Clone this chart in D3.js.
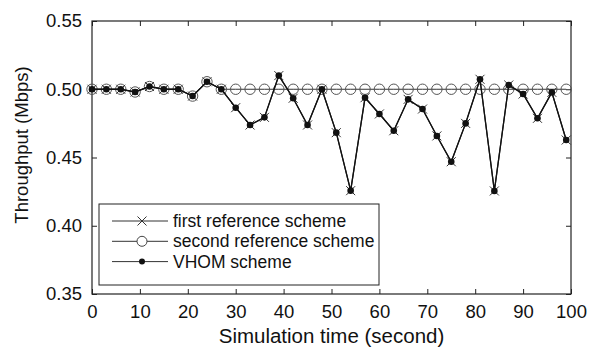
<!DOCTYPE html>
<html><head><meta charset="utf-8">
<script src="https://cdn.jsdelivr.net/npm/d3@7"></script>
<style>body{margin:0;background:#fff}svg{display:block}text{font-family:"Liberation Sans",Arial,sans-serif;fill:#111}</style>
</head><body><svg id="c" width="602" height="350"></svg>
<script>
const times = [0,3,6,9,12,15,18,21,24,27,30,33,36,39,42,45,48,51,54,57,60,63,66,69,72,75,78,81,84,87,90,93,96,99];
const vhom = [0.500,0.500,0.500,0.498,0.502,0.500,0.500,0.495,0.5055,0.500,0.4865,0.4738,0.4794,0.510,0.4934,0.4738,0.500,0.4682,0.4257,0.4938,0.4819,0.4696,0.4926,0.4855,0.4658,0.4469,0.4750,0.5073,0.4255,0.5031,0.4965,0.4787,0.4977,0.4628];
const firstRef = [0.500,0.500,0.500,0.498,0.502,0.500,0.500,0.495,0.5055,0.500,0.4865,0.4738,0.4794,0.510,0.4934,0.4738,0.500,0.4682,0.4257,0.4938,0.4819,0.4696,0.4926,0.4855,0.4658,0.4469,0.4750,0.5073,0.4255,0.5031,0.4965,0.4787,0.4977,0.4628];
const secondRef = [0.500,0.500,0.500,0.498,0.502,0.500,0.500,0.495,0.5055,0.500,0.500,0.500,0.500,0.500,0.500,0.500,0.500,0.500,0.500,0.500,0.500,0.500,0.500,0.500,0.500,0.500,0.500,0.500,0.500,0.500,0.500,0.500,0.500,0.500];
const xTicks = [0,10,20,30,40,50,60,70,80,90,100];
const yTicks = [0.35,0.40,0.45,0.50,0.55];
const legendLabels = ["first reference scheme","second reference scheme","VHOM scheme"];

const svg = d3.select("#c");
const L=92,R=571,T=21,B=294;
const x = d3.scaleLinear().domain([0,100]).range([L,R]);
const y = d3.scaleLinear().domain([0.35,0.55]).range([B,T]);
const ink="#222";

// axes box
svg.append("rect").attr("x",L).attr("y",T).attr("width",R-L).attr("height",B-T).attr("fill","none").attr("stroke",ink).attr("stroke-width",1.2);
const tl=5;
const fmt = d3.format(".2f");
const axB = svg.append("g").attr("transform",`translate(0,${B})`).call(d3.axisBottom(x).tickValues(xTicks).tickSizeInner(-tl).tickSizeOuter(0).tickPadding(11));
const axT = svg.append("g").attr("transform",`translate(0,${T})`).call(d3.axisTop(x).tickValues(xTicks).tickSizeInner(-tl).tickSizeOuter(0).tickFormat(""));
const axL = svg.append("g").attr("transform",`translate(${L},0)`).call(d3.axisLeft(y).tickValues(yTicks).tickSizeInner(-tl).tickSizeOuter(0).tickPadding(10).tickFormat(fmt));
const axR = svg.append("g").attr("transform",`translate(${R},0)`).call(d3.axisRight(y).tickValues(yTicks).tickSizeInner(-tl).tickSizeOuter(0).tickFormat(""));
[axB,axT,axL,axR].forEach(a=>{a.select(".domain").remove();a.selectAll("line").attr("stroke",ink);a.selectAll("text").attr("font-size",18.5).attr("fill","#111").style("font-family","Liberation Sans, Arial, sans-serif");});

// titles
svg.append("text").attr("x",(L+R)/2+0).attr("y",343).attr("text-anchor","middle").attr("font-size",20.5).text("Simulation time (second)");
svg.append("text").attr("transform",`translate(28,145) rotate(-90)`).attr("text-anchor","middle").attr("font-size",18.5).text("Throughput (Mbps)");

const line = d3.line().x((d,i)=>x(times[i])).y(d=>y(d));
function drawCross(g,cx,cy,s){g.append("path").attr("d",`M${cx-s},${cy-s}L${cx+s},${cy+s}M${cx-s},${cy+s}L${cx+s},${cy-s}`).attr("stroke","#333").attr("stroke-width",1).attr("fill","none");}

// second reference
svg.append("path").datum(secondRef).attr("d",line).attr("fill","none").attr("stroke","#333").attr("stroke-width",1);
svg.append("g").selectAll("circle").data(secondRef).join("circle").attr("cx",(d,i)=>x(times[i])).attr("cy",d=>y(d)).attr("r",5.2).attr("fill","none").attr("stroke","#555").attr("stroke-width",1);
// first reference
svg.append("path").datum(firstRef).attr("d",line).attr("fill","none").attr("stroke","#222").attr("stroke-width",1.2);
const gc = svg.append("g");
firstRef.forEach((d,i)=>drawCross(gc,x(times[i]),y(d),4.5));
// VHOM
svg.append("path").datum(vhom).attr("d",line).attr("fill","none").attr("stroke","#111").attr("stroke-width",1.3);
svg.append("g").selectAll("circle").data(vhom).join("circle").attr("cx",(d,i)=>x(times[i])).attr("cy",d=>y(d)).attr("r",3.3).attr("fill","#111");

// legend
const lg = svg.append("g");
lg.append("rect").attr("x",99).attr("y",204).attr("width",280).attr("height",81).attr("fill","#fff").attr("stroke",ink).attr("stroke-width",1);
legendLabels.forEach((lab,i)=>{
  const cy = 221 + i*20.3;
  lg.append("line").attr("x1",112).attr("x2",168).attr("y1",cy).attr("y2",cy).attr("stroke","#333").attr("stroke-width",1);
  if(i===0) drawCross(lg,142,cy,4.5);
  if(i===1) lg.append("circle").attr("cx",142).attr("cy",cy).attr("r",5).attr("fill","#fff").attr("stroke","#444");
  if(i===2) lg.append("circle").attr("cx",142).attr("cy",cy).attr("r",3).attr("fill","#111");
  lg.append("text").attr("x",173).attr("y",cy+6).attr("font-size",17.5).text(lab);
});
</script></body></html>
